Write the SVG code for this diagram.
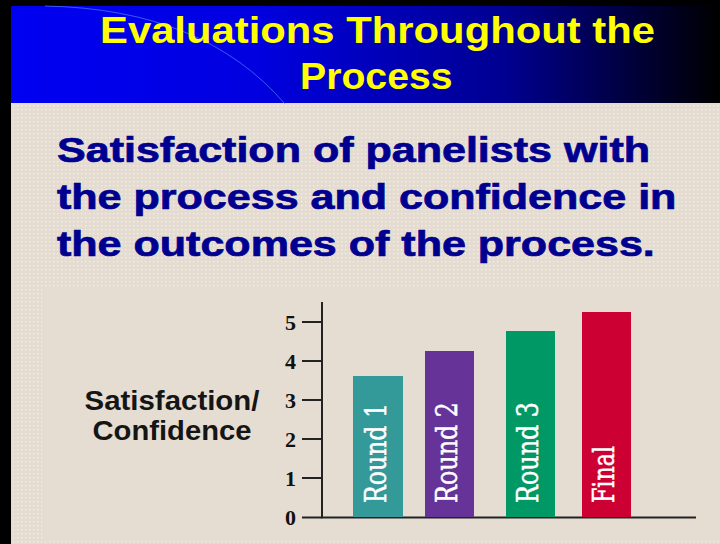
<svg xmlns="http://www.w3.org/2000/svg" width="720" height="544" viewBox="0 0 720 544">
<defs>
<pattern id="dots" width="4" height="4" patternUnits="userSpaceOnUse">
<rect width="4" height="4" fill="#E4DBD1"/>
<rect x="1" y="1" width="1.4" height="1.4" fill="#F3EEE8"/>
</pattern>
<linearGradient id="hdr" x1="0" y1="0" x2="1" y2="0">
<stop offset="0" stop-color="#0000F2"/>
<stop offset="0.35" stop-color="#0000E0"/>
<stop offset="0.7" stop-color="#000090"/>
<stop offset="1" stop-color="#000000"/>
</linearGradient>
<style>
.title{font-family:"Liberation Sans",Arial,sans-serif;font-weight:bold;font-size:37px;fill:#FFFF00}
.sub{font-family:"Liberation Sans",Arial,sans-serif;font-weight:bold;font-size:35px;fill:#000090;stroke:#000090;stroke-width:0.7}
.tick{font-family:"Liberation Serif","Times New Roman",serif;font-weight:bold;font-size:22px;fill:#111;text-anchor:end}
.ylab{font-family:"Liberation Sans",Arial,sans-serif;font-weight:bold;font-size:27px;fill:#151515;text-anchor:middle}
.bl{font-family:"DejaVu Serif","Liberation Serif",serif;font-size:29px;fill:#FFFFFF;stroke:#FFFFFF;stroke-width:0.5}
.axis{stroke:#222;stroke-width:2;fill:none}
</style>
</defs>
<rect width="720" height="544" fill="url(#dots)"/>
<rect x="45" y="286" width="675" height="255" fill="#E5DCD2"/>
<rect x="0" y="0" width="720" height="6" fill="#000"/>
<rect x="0" y="0" width="11" height="544" fill="#000"/>
<g id="header">
<rect x="11" y="6" width="709" height="97" fill="url(#hdr)"/>
<path d="M 45 6 C 150 8, 230 40, 285 104" fill="none" stroke="#5F98FF" stroke-width="1" opacity="0.6"/>
<text class="title" transform="translate(100,43) scale(1.13,1)">Evaluations Throughout the</text>
<text class="title" transform="translate(300,89) scale(1.06,1)">Process</text>
</g>
<g id="subtitle">
<text class="sub" transform="translate(57,162) scale(1.23,1)">Satisfaction of panelists with</text>
<text class="sub" transform="translate(57,209) scale(1.23,1)">the process and confidence in</text>
<text class="sub" transform="translate(57,256) scale(1.23,1)">the outcomes of the process.</text>
</g>
<g id="axes">
<path class="axis" d="M 322 302 V 518 M 321 517.5 H 696"/>
<path class="axis" d="M 302 322 H 322 M 302 361 H 322 M 302 400 H 322 M 302 439 H 322 M 302 478 H 322 M 302 517.5 H 322"/>
<text class="tick" x="296" y="330">5</text>
<text class="tick" x="296" y="369">4</text>
<text class="tick" x="296" y="408">3</text>
<text class="tick" x="296" y="447">2</text>
<text class="tick" x="296" y="486">1</text>
<text class="tick" x="296" y="525">0</text>
<text class="ylab" x="172" y="410" textLength="175" lengthAdjust="spacingAndGlyphs">Satisfaction/</text>
<text class="ylab" x="172" y="440" textLength="159" lengthAdjust="spacingAndGlyphs">Confidence</text>
</g>
<g id="bar-round1">
<rect x="353" y="376" width="50" height="141" fill="#339999"/>
<text class="bl" transform="translate(386,503) rotate(-90)" textLength="100" lengthAdjust="spacingAndGlyphs">Round 1</text>
</g>
<g id="bar-round2">
<rect x="425" y="351" width="49" height="166" fill="#663399"/>
<text class="bl" transform="translate(457,503) rotate(-90)" textLength="101" lengthAdjust="spacingAndGlyphs">Round 2</text>
</g>
<g id="bar-round3">
<rect x="506" y="331" width="49" height="186" fill="#009966"/>
<text class="bl" transform="translate(538,503) rotate(-90)" textLength="101" lengthAdjust="spacingAndGlyphs">Round 3</text>
</g>
<g id="bar-final">
<rect x="582" y="312" width="49" height="205" fill="#CC0033"/>
<text class="bl" transform="translate(614,503) rotate(-90)" textLength="57" lengthAdjust="spacingAndGlyphs">Final</text>
</g>
</svg>
